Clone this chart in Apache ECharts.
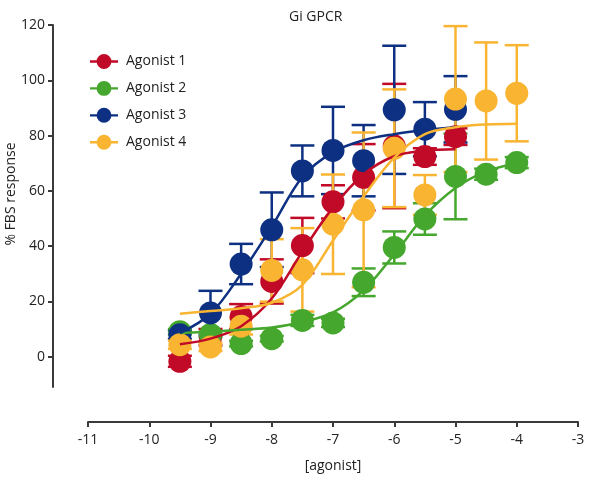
<!DOCTYPE html>
<html>
<head>
<meta charset="utf-8">
<script src="https://cdn.jsdelivr.net/npm/echarts@6/dist/echarts.min.js"></script>
<style>
html,body{margin:0;padding:0;background:#fff;}
#chart{width:600px;height:490px;}
</style>
</head>
<body>
<div id="chart"></div>
<script>
// log concentrations
var doses = [-9.5, -9, -8.5, -8, -7.5, -7, -6.5, -6, -5.5, -5, -4.5, -4];
var names = ['Agonist 1', 'Agonist 2', 'Agonist 3', 'Agonist 4'];
var colors = ['#C00A27', '#45A72D', '#0D3082', '#F9B432'];

// mean % FBS response
var ag1Mean = [-1.7, 7, 14.5, 27.2, 40.2, 56, 64.9, 76.2, 72.4, 79.6];
var ag2Mean = [9, 8, 4.7, 6.5, 13.1, 12.2, 26.9, 39.5, 49.8, 65.2, 66, 70.2];
var ag3Mean = [7.9, 15.8, 33.5, 45.9, 67.2, 74.6, 70.9, 89.3, 82.3, 89.5];
var ag4Mean = [4.3, 3.5, 11, 31.2, 31.4, 47.9, 53.1, 75.4, 58.5, 93.2, 92.5, 95.3];

// error (+/-)
var ag1Err = [2, 3, 4.5, 8, 10, 6, 12, 22.5, 3, 3];
var ag2Err = [1, 1, 1, 1, 2, 1.5, 5, 5.8, 5.7, 15.5, 2, 2];
var ag3Err = [1.5, 8, 7.3, 13.5, 9.2, 15.8, 12.9, 23.2, 9.8, 12];
var ag4Err = [1.5, 1.5, 3, 11.3, 15.1, 18, 28, 21.3, 7.2, 26.4, 21.2, 17.4];

// fitted curves
var ag1Fit = [4.5, 6.5, 11, 21, 38, 54, 66, 72.5, 74.5, 75];
var ag2Fit = [8.5, 9, 9.7, 10.5, 12.5, 16, 24, 37, 51, 61, 67, 70];
var ag3Fit = [8.5, 15.5, 30, 47, 65, 74, 78.3, 80.5, 82, 83];
var ag4Fit = [15.5, 16.5, 17.5, 19.5, 26, 42, 58, 72, 80.5, 83, 84, 84.3];

var yTicks = [0, 20, 40, 60, 80, 100, 120];

var means = [ag1Mean, ag2Mean, ag3Mean, ag4Mean];
var errs = [ag1Err, ag2Err, ag3Err, ag4Err];
var fits = [ag1Fit, ag2Fit, ag3Fit, ag4Fit];

var font = 'Open Sans';
var txt = '#222';
var axisCol = '#3a3a3a';
var legendIcon = 'path://M0,7 L30,7 L30,9.5 L0,9.5 Z M23,8.25 A8,8 0 1,1 7,8.25 A8,8 0 1,1 23,8.25 Z';

function pairs(vals){
  var out = [];
  for (var i = 0; i < vals.length; i++){
    out.push([doses[i], vals[i]]);
  }
  return out;
}

var series = [];
for (var k = 0; k < 4; k++){
  var c = colors[k];
  // fit line
  series.push({
    name: names[k],
    type: 'line',
    data: pairs(fits[k]),
    smooth: 0.35,
    symbol: 'none',
    color: c,
    lineStyle: {color: c, width: 2.5}
  });
  // error bars
  var eb = [];
  for (var i = 0; i < means[k].length; i++){
    eb.push([doses[i], means[k][i] - errs[k][i], means[k][i] + errs[k][i]]);
  }
  series.push({
    name: names[k] + ' err',
    type: 'custom',
    data: eb,
    renderItem: (function(col){
      return function(params, api){
        var x = api.value(0);
        var lo = api.coord([x, api.value(1)]);
        var hi = api.coord([x, api.value(2)]);
        var w = 12;
        var st = {stroke: col, lineWidth: 2.5};
        return {type: 'group', children: [
          {type: 'line', shape: {x1: lo[0], y1: lo[1], x2: hi[0], y2: hi[1]}, style: st},
          {type: 'line', shape: {x1: hi[0] - w, y1: hi[1], x2: hi[0] + w, y2: hi[1]}, style: st},
          {type: 'line', shape: {x1: lo[0] - w, y1: lo[1], x2: lo[0] + w, y2: lo[1]}, style: st}
        ]};
      };
    })(c)
  });
  // points
  series.push({
    name: names[k] + ' pts',
    type: 'scatter',
    data: pairs(means[k]),
    symbol: 'circle',
    symbolSize: 23,
    itemStyle: {color: c, opacity: 1}
  });
}

var chart = echarts.init(document.getElementById('chart'));
chart.setOption({
  animation: false,
  textStyle: {fontFamily: font},
  title: {
    text: 'Gi GPCR',
    left: 284,
    top: 5,
    textStyle: {fontFamily: font, fontSize: 14, fontWeight: 'normal', color: txt}
  },
  legend: {
    orient: 'vertical',
    left: 85,
    top: 49,
    itemWidth: 28,
    itemHeight: 16,
    itemGap: 12,
    textStyle: {fontFamily: font, fontSize: 14, color: txt, padding: [0, 0, 0, 3]},
    data: names.map(function(n){ return {name: n, icon: legendIcon}; })
  },
  grid: {left: 88, right: 22, top: 25, bottom: 103},
  xAxis: {
    type: 'value',
    min: -11,
    max: -3,
    interval: 1,
    offset: 35,
    name: '[agonist]',
    nameLocation: 'middle',
    nameGap: 37,
    nameTextStyle: {fontFamily: font, fontSize: 14, color: txt},
    axisLine: {onZero: false, lineStyle: {color: axisCol, width: 2}},
    axisTick: {length: 5, lineStyle: {color: axisCol, width: 2}},
    axisLabel: {fontFamily: font, fontSize: 14, color: txt, margin: 11},
    splitLine: {show: false}
  },
  yAxis: {
    type: 'value',
    min: -11,
    max: 120,
    offset: 35,
    axisLine: {show: true, onZero: false, lineStyle: {color: axisCol, width: 2}},
    axisTick: {show: true, length: 5, customValues: yTicks, lineStyle: {color: axisCol, width: 2}},
    axisLabel: {fontFamily: font, fontSize: 14, color: txt, margin: 8, customValues: yTicks},
    splitLine: {show: false}
  },
  graphic: [{
    type: 'text',
    x: 11,
    y: 194,
    rotation: Math.PI / 2,
    style: {
      text: '% FBS response',
      fontFamily: font,
      fontSize: 14,
      fill: txt,
      textAlign: 'center',
      textVerticalAlign: 'middle'
    }
  }],
  series: series
});
</script>
</body>
</html>
